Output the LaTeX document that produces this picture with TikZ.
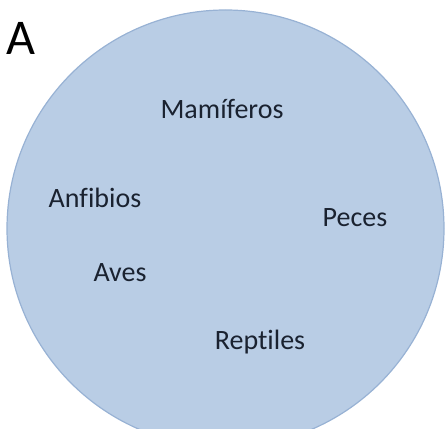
\documentclass[tikz,border=0pt]{standalone}
\usepackage{fontspec}
\setmainfont[Ligatures={NoCommon}]{Carlito}
\usepackage{tikz}
\usetikzlibrary{positioning}

\definecolor{setfill}{HTML}{B9CDE5}
\definecolor{setline}{HTML}{98B2D4}
\definecolor{wordcol}{HTML}{1A2230}

\begin{document}
\begin{tikzpicture}[
        x=1pt, y=1pt,
        % Style for the set and its members
        setcircle/.style={
            draw=setline,
            line width=1.2pt,
            fill=setfill
        },
        member/.style={
            anchor=base,
            inner sep=0pt,
            text=wordcol,
            font=\fontsize{28}{30}\selectfont
        },
        setlabel/.style={
            anchor=base west,
            inner sep=0pt,
            font=\fontsize{50}{52}\selectfont
        }
    ]

    \useasboundingbox (0,0) rectangle (446,428);
    \clip (0,0) rectangle (446,428);

    % Draw the set
    \draw [setcircle] (225.5,199.5) circle (218.5);

    % Set name
    \node (name) [setlabel] at (6,373) {A};

    % Members of the set
    \node (mamiferos) [member] at (222,309) {Mamíferos};
    \node (anfibios) [member] at (95,220) {Anfibios};
    \node (peces) [member] at (355,201) {Peces};
    \node (aves) [member] at (120,146) {Aves};
    \node (reptiles) [member] at (260,79) {Reptiles};

\end{tikzpicture}
\end{document}
